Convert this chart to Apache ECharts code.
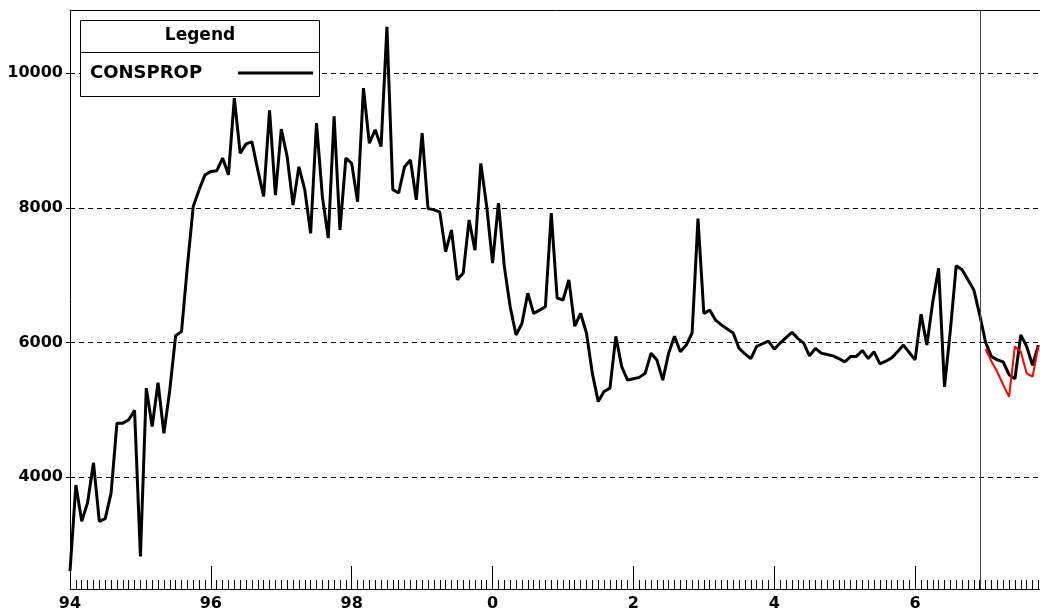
<!DOCTYPE html>
<html lang="en">
<head>
<meta charset="UTF-8" />
<title>CONSPROP</title>
<style>
  html, body { margin: 0; padding: 0; background: #fff; }
  #chart { width: 1040px; height: 614px; }
</style>
</head>
<body>
<div id="chart"></div>
<script src="https://cdn.jsdelivr.net/npm/echarts@6/dist/echarts.min.js"></script>
<script>
// monthly values, first one is Jan 1994
const startYear = 1994;
const consprop = [
  2600, 3880, 3340, 3620, 4210, 3340, 3380, 3760, 4800, 4800,
  4850, 4990, 2820, 5320, 4750, 5400, 4650, 5290, 6100, 6160,
  7130, 8020, 8270, 8490, 8540, 8550, 8740, 8490, 9630, 8810,
  8950, 8980, 8560, 8170, 9450, 8190, 9170, 8760, 8040, 8610,
  8270, 7620, 9260, 8170, 7550, 9360, 7670, 8740, 8660, 8090,
  9780, 8960, 9160, 8910, 10690, 8270, 8220, 8610, 8710, 8120,
  9110, 7990, 7970, 7940, 7350, 7670, 6930, 7030, 7820, 7370,
  8660, 8020, 7180, 8070, 7130, 6530, 6110, 6280, 6730, 6430,
  6480, 6530, 7920, 6660, 6630, 6930, 6240, 6430, 6140, 5540,
  5120, 5270, 5320, 6090, 5640, 5440, 5460, 5480, 5540, 5840,
  5740, 5440, 5840, 6090, 5860, 5960, 6140, 7840, 6430, 6480,
  6330, 6260, 6200, 6140, 5910, 5830, 5760, 5940, 5980, 6020,
  5900, 5990, 6070, 6150, 6060, 5990, 5800, 5910, 5840, 5820,
  5800, 5760, 5710, 5790, 5790, 5880, 5760, 5860, 5680, 5720,
  5770, 5860, 5960, 5850, 5740, 6420, 5960, 6600, 7100, 5340,
  6180, 7140, 7080, 6930, 6780, 6410, 6000, 5790, 5740, 5710,
  5520, 5460, 6110, 5940, 5660, 5960
];
// red forecast, starts at month index forecastStart
const forecastStart = 156;
const forecast = [5900, 5720, 5560, 5370, 5190, 5940, 5860, 5540, 5490, 5940];
// vertical divider (month index)
const dividerMonth = 155;
const yTicks = [4000, 6000, 8000, 10000];
const yMin = 2335;
const yMax = 10940;
const xMin = 1994;
const xMax = 2008;
const xStep = 2;

const font = "DejaVu Sans";

let chart = echarts.init(document.getElementById("chart"), null, { renderer: "canvas" });

let mainData = consprop.map(function (v, i) {
  return [startYear + i / 12, v];
});
let redData = forecast.map(function (v, i) {
  return [startYear + (forecastStart + i) / 12, v];
});

let option = {
  animation: false,
  backgroundColor: "#fff",
  grid: {
    left: 70,
    top: 10,
    bottom: 25,
    width: 986,
    containLabel: false,
    outerBoundsMode: "none"
  },
  legend: {
    data: ["CONSPROP"],
    left: 90,
    top: 64,
    padding: 0,
    align: "right",
    icon: "rect",
    itemWidth: 75,
    itemHeight: 3,
    selectedMode: false,
    z: 120,
    textStyle: {
      fontFamily: font,
      fontWeight: "bold",
      fontSize: 18,
      color: "#000",
      padding: [0, 31, 0, 0]
    }
  },
  graphic: [
    {
      type: "rect",
      z: 100,
      shape: { x: 80.5, y: 20.5, width: 239, height: 76 },
      style: { fill: "#fff", stroke: "#000", lineWidth: 1 }
    },
    {
      type: "line",
      z: 101,
      shape: { x1: 80, y1: 52.5, x2: 320, y2: 52.5 },
      style: { stroke: "#000", lineWidth: 1 }
    },
    {
      type: "text",
      z: 101,
      x: 200,
      y: 36,
      style: {
        text: "Legend",
        fill: "#000",
        font: "bold 17px '" + font + "'",
        align: "center",
        verticalAlign: "middle"
      }
    }
  ],
  xAxis: [
    {
      type: "value",
      min: xMin,
      max: xMax,
      interval: xStep,
      axisLine: { show: true, lineStyle: { color: "#000", width: 1 } },
      axisTick: { show: true, inside: true, length: 23, lineStyle: { color: "#000" } },
      minorTick: { show: true, splitNumber: 24, length: 9, lineStyle: { color: "#000" } },
      axisLabel: {
        color: "#000",
        fontFamily: font,
        fontWeight: "bold",
        fontSize: 16,
        margin: 7,
        formatter: function (v) {
          return String(Math.round(v) % 100);
        }
      },
      splitLine: { show: false }
    },
    {
      type: "value",
      position: "top",
      min: xMin,
      max: xMax,
      axisLine: { show: true, lineStyle: { color: "#000", width: 1 } },
      axisTick: { show: false },
      axisLabel: { show: false },
      splitLine: { show: false }
    }
  ],
  yAxis: {
    type: "value",
    min: yMin,
    max: yMax,
    axisLine: { show: true, lineStyle: { color: "#000", width: 1 } },
    axisTick: { show: true, length: 4, customValues: yTicks, lineStyle: { color: "#000" } },
    axisLabel: {
      customValues: yTicks,
      color: "#000",
      fontFamily: font,
      fontWeight: "bold",
      fontSize: 16,
      margin: 7,
      formatter: function (v) {
        return String(v);
      }
    },
    splitLine: { show: false }
  },
  series: [
    {
      name: "CONSPROP",
      type: "line",
      data: mainData,
      showSymbol: false,
      symbol: "none",
      lineStyle: { color: "#000", width: 3 },
      itemStyle: { color: "#000" },
      markLine: {
        silent: true,
        symbol: "none",
        label: { show: false },
        data: yTicks.map(function (v) {
          return { yAxis: v, lineStyle: { color: "#000", width: 1, type: [5, 4] } };
        }).concat([
          { xAxis: startYear + dividerMonth / 12, lineStyle: { color: "#444", width: 1, type: "solid" } }
        ])
      }
    },
    {
      name: "forecast",
      type: "line",
      data: redData,
      showSymbol: false,
      symbol: "none",
      lineStyle: { color: "#ff0000", width: 2 },
      itemStyle: { color: "#ff0000" }
    }
  ]
};
chart.setOption(option);
</script>
</body>
</html>
